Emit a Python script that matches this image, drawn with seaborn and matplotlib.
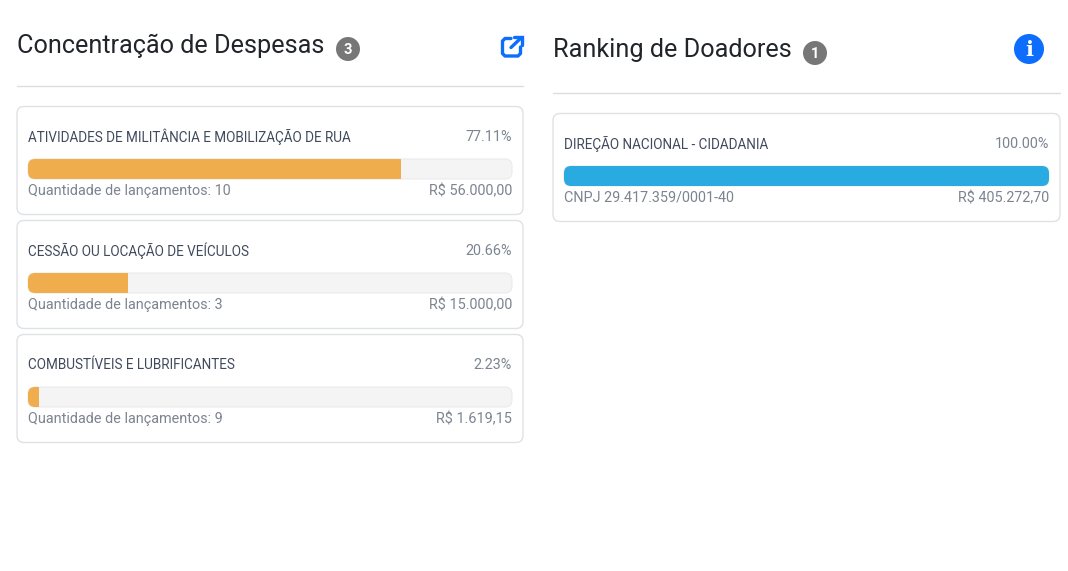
import matplotlib
matplotlib.use("Agg")
import matplotlib.pyplot as plt
import seaborn as sns
from matplotlib.patches import FancyBboxPatch, Circle
from matplotlib.lines import Line2D

# data
despesas = ["ATIVIDADES DE MILITÂNCIA E MOBILIZAÇÃO DE RUA", "CESSÃO OU LOCAÇÃO DE VEÍCULOS", "COMBUSTÍVEIS E LUBRIFICANTES"]
despesas_pct = [77.11, 20.66, 2.23]
despesas_pct_txt = ["77.11%", "20.66%", "2.23%"]
despesas_qtd = ["Quantidade de lançamentos: 10", "Quantidade de lançamentos: 3", "Quantidade de lançamentos: 9"]
despesas_valor = ["R$ 56.000,00", "R$ 15.000,00", "R$ 1.619,15"]

doadores = ["DIREÇÃO NACIONAL - CIDADANIA"]
doadores_pct = [100.0]
doadores_pct_txt = ["100.00%"]
doadores_doc = ["CNPJ 29.417.359/0001-40"]
doadores_valor = ["R$ 405.272,70"]

W, H = 1068, 571
sns.set_theme(style="white")
plt.rcParams["font.family"] = ["Roboto", "DejaVu Sans"]

fig = plt.figure(figsize=(W / 100, H / 100), dpi=100, facecolor="white")

# full page axes in pixels, for the cards and text
bg = fig.add_axes([0, 0, 1, 1])
bg.set_xlim(0, W)
bg.set_ylim(H, 0)
bg.axis("off")


def round_box(x0, y0, x1, y1, r, face, edge, lw=1.0, z=1):
    box = FancyBboxPatch((x0 + r, y0 + r), x1 - x0 - 2 * r, y1 - y0 - 2 * r,
                         boxstyle=f"round,pad={r},rounding_size={r}",
                         fc=face, ec=edge, lw=lw, zorder=z, transform=bg.transData)
    return box


def card(top, x0, x1, label, pct, pct_txt, foot, valor, color):
    pad = 11
    bg.add_patch(round_box(x0, top, x1, top + 108, 7, "white", "#dfe1e4", 1.0))
    bg.text(x0 + pad, top + 30.5, label, fontsize=9.75, color="#3f4a5c", va="center")
    bg.text(x1 - pad, top + 30.5, pct_txt, fontsize=10.4, color="#7b8490", va="center", ha="right")
    bg.text(x0 + pad, top + 84.5, foot, fontsize=10.4, color="#7b8490", va="center")
    bg.text(x1 - pad, top + 84.5, valor, fontsize=10.4, color="#7b8490", va="center", ha="right")

    bx0, bx1, by0, by1 = x0 + pad, x1 - pad, top + 52.5, top + 72.5
    bg.add_patch(round_box(bx0, by0, bx1, by1, 7, "#f4f4f4", "#ebebeb", 0.8, 2))

    ax = fig.add_axes([bx0 / W, 1 - by1 / H, (bx1 - bx0) / W, (by1 - by0) / H])
    sns.barplot(x=[pct], y=[label], color=color, saturation=1, width=1.0, ax=ax)
    ax.set_xlim(0, 100)
    ax.set_ylim(0.5, -0.5)
    ax.axis("off")
    clip = round_box(bx0, by0, bx1, by1, 7, "none", "none")
    for bar in ax.patches:
        bar.set_clip_path(clip)
        bar.set_linewidth(0)


def badge(x, y, txt):
    bg.add_patch(Circle((x, y), 12, fc="#777777", ec="none", zorder=3))
    bg.text(x, y + 0.5, txt, fontsize=10.5, fontweight="bold", color="white", ha="center", va="center", zorder=4)


# left panel
bg.text(17, 46, "Concentração de Despesas", fontsize=18.2, color="#212529", va="center")
badge(348, 49, "3")
bg.add_line(Line2D([17, 523], [85.5, 85.5], color="#dddddd", lw=1))
for i in range(len(despesas)):
    card(106.5 + 114 * i, 17, 523, despesas[i], despesas_pct[i], despesas_pct_txt[i],
         despesas_qtd[i], despesas_valor[i], "#f0ad4e")

# external link icon
blue = "#0d6efd"
bg.plot([511, 505, 502.5, 502.5, 505, 518, 520.5, 520.5], [38.5, 38.5, 41, 53.5, 56, 56, 53.5, 47],
        color=blue, lw=2.4, solid_capstyle="round", solid_joinstyle="round")
bg.plot([511, 521.5], [47.5, 37.5], color=blue, lw=2.4, solid_capstyle="round")
bg.plot([514, 522, 522], [37, 37, 45], color=blue, lw=2.4, solid_capstyle="round", solid_joinstyle="miter")

# right panel
bg.text(553, 50, "Ranking de Doadores", fontsize=18.2, color="#212529", va="center")
badge(815, 53, "1")
bg.add_line(Line2D([553, 1060], [92.5, 92.5], color="#dddddd", lw=1))
card(113.5, 553, 1060, doadores[0], doadores_pct[0], doadores_pct_txt[0],
     doadores_doc[0], doadores_valor[0], "#29abe2")

# info icon
bg.add_patch(Circle((1029, 49), 15, fc=blue, ec="none", zorder=3))
bg.text(1029, 49.5, "i", fontsize=15, fontweight="bold", family="DejaVu Serif", color="white", ha="center", va="center", zorder=4)

fig.savefig("out.png", dpi=100)
